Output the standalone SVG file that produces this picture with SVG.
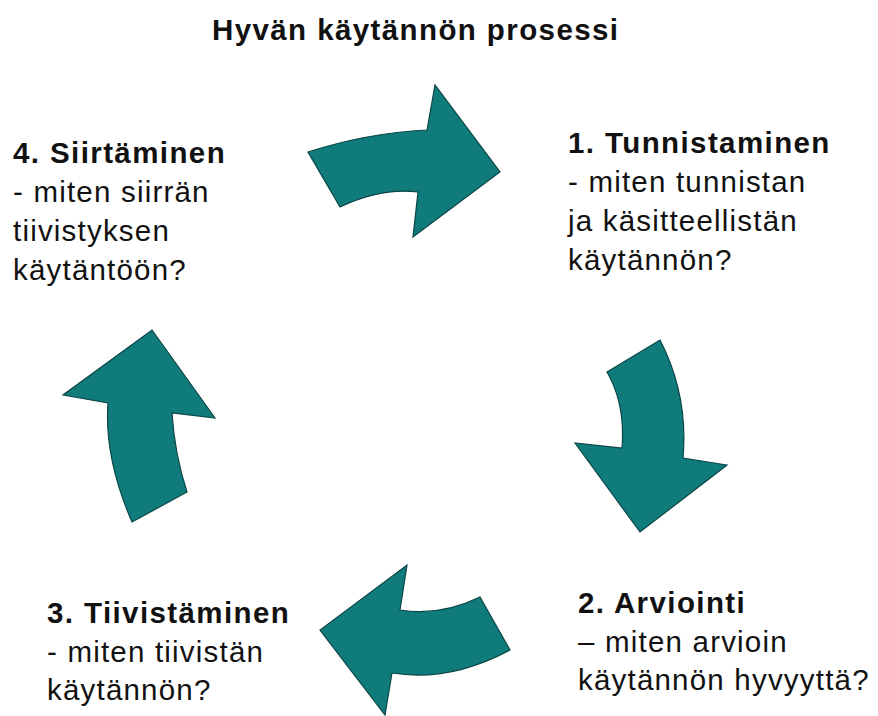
<svg xmlns="http://www.w3.org/2000/svg" width="878" height="716" viewBox="0 0 878 716">
<style>
.arr{fill:#107b7b;stroke:#0b4546;stroke-width:1.2;stroke-linejoin:miter}
text{font-family:"Liberation Sans",Arial,sans-serif;font-size:29.5px;fill:#111}
.b{font-weight:bold;letter-spacing:1.4px}
.r{letter-spacing:1.2px}
</style>
<rect width="878" height="716" fill="#fff"/>
<text class="b" x="212" y="40">Hyvän käytännön prosessi</text>
<g id="connectors">
<path class="arr" d="M308,152 Q367,133 427,130 L435,85 L500,172 L413,237 L418,192 Q381,187.5 340,207 Z"/>
<path class="arr" d="M607,372 L660,340 Q688.5,395 683,458 L727,465 L640,532 L575,443 L622,448 Q625.5,404 607,372 Z"/>
<path class="arr" d="M480,597 Q440,616.5 400,610 L407,565 L320,630 L385,715 L392,673 Q449,682.5 510,650 Z"/>
<path class="arr" d="M132,522 L187,492 Q174.5,453.5 172,413 L215,418 L152,330 L63,395 L108,403 Q104,457.5 132,522 Z"/>
</g>
<g id="node1">
<text class="b" x="568" y="153">1. Tunnistaminen</text>
<text class="r" x="568" y="192">- miten tunnistan</text>
<text class="r" x="568" y="231">ja käsitteellistän</text>
<text class="r" x="568" y="270">käytännön?</text>
</g>
<g id="node2">
<text class="b" x="578" y="613">2. Arviointi</text>
<text class="r" x="578" y="652">– miten arvioin</text>
<text class="r" x="578" y="690">käytännön hyvyyttä?</text>
</g>
<g id="node3">
<text class="b" x="47" y="623">3. Tiivistäminen</text>
<text class="r" x="47" y="662">- miten tiivistän</text>
<text class="r" x="47" y="700">käytännön?</text>
</g>
<g id="node4">
<text class="b" x="13" y="163">4. Siirtäminen</text>
<text class="r" x="13" y="202">- miten siirrän</text>
<text class="r" x="13" y="241">tiivistyksen</text>
<text class="r" x="13" y="280">käytäntöön?</text>
</g>
</svg>
